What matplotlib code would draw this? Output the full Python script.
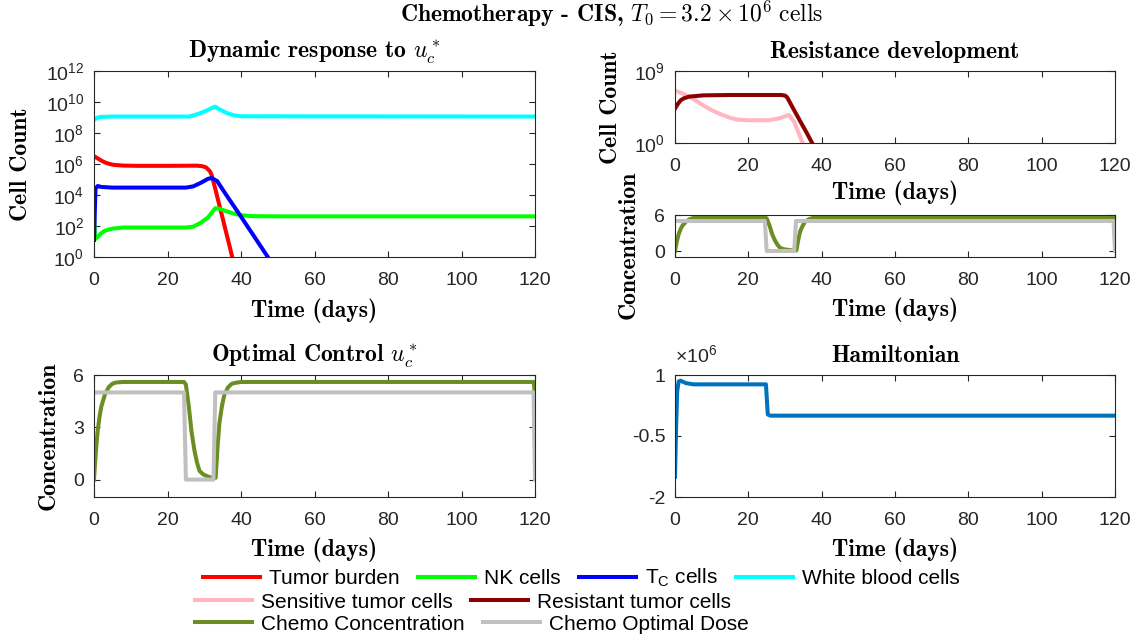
import math
import matplotlib
matplotlib.use("Agg")
import matplotlib.pyplot as plt
from matplotlib.lines import Line2D
from matplotlib.ticker import FixedLocator, FuncFormatter, NullLocator

plt.rcParams.update({
    "font.family": "Liberation Sans",
    "mathtext.fontset": "custom",
    "mathtext.rm": "Liberation Sans",
    "mathtext.it": "Liberation Sans:italic",
    "mathtext.bf": "Liberation Sans:bold",
    "axes.unicode_minus": False,
    "axes.linewidth": 0.8,
    "axes.edgecolor": "#262626",
    "xtick.color": "#262626",
    "ytick.color": "#262626",
    "xtick.labelcolor": "#262626",
    "ytick.labelcolor": "#262626",
})

# ---- simulated trajectories (days, cells) ----
t_tumor = [0, 1, 2, 3, 4, 5, 6, 8, 12, 20, 28, 29.5, 30.5, 31.5, 32, 33, 34, 35, 36, 37, 37.6, 38.2]
tumor = [3.2e6, 2.3e6, 1.66e6, 1.26e6, 1.05e6, 9.1e5, 8.5e5, 7.9e5, 7.6e5, 7.6e5, 7.8e5, 7.2e5,
         6.0e5, 3.5e5, 2.0e5, 2.5e4, 2.8e3, 3.2e2, 35, 4.0, 1.0, 0.25]

t_nk = [0, 0.3, 1, 2, 3, 5, 8, 25, 27, 29, 31, 32, 33, 34, 36, 38, 40, 43, 50, 120]
nk = [800, 14, 20, 35, 50, 68, 80, 80, 90, 160, 350, 700, 1400, 1300, 900, 630, 500, 430, 420, 420]

t_tc = [0, 0.4, 1, 2, 5, 25, 27, 29, 31, 32, 33.5, 36, 40, 44, 47.3, 48]
tc = [12.6, 2.5e4, 3.8e4, 3.3e4, 3.0e4, 3.0e4, 3.6e4, 6e4, 1.1e5, 1.25e5, 7.9e4, 1e4, 400, 15, 1, 0.55]

t_wbc = [0, 1, 2, 5, 26, 28, 30, 32, 33, 34, 36, 38, 40, 120]
wbc = [7e8, 1.0e9, 1.1e9, 1.15e9, 1.15e9, 1.6e9, 2.4e9, 4e9, 5e9, 3.5e9, 2e9, 1.4e9, 1.2e9, 1.15e9]

t_sens = [0, 2, 5, 7.7, 10, 12.4, 15, 17, 20, 25.5, 28, 29.2, 31.1, 32.5, 33.5, 34.8, 35.3]
sens = [3.5e6, 1.6e6, 3.2e5, 5e4, 1.26e4, 4e3, 1.4e3, 850, 700, 700, 1.1e3, 1.6e3, 3.2e3, 450, 32, 1, 0.3]

t_res = [0, 0.8, 1.6, 2.5, 3.9, 7.7, 15, 29, 30, 30.6, 31.3, 32, 34, 36, 37.4, 38]
res = [2e4, 8e4, 2.3e5, 4e5, 6.3e5, 9e5, 1e6, 1e6, 8.5e5, 5e5, 1.26e5, 3.2e4, 700, 16, 1, 0.3]

t_chemo = [0, 0.5, 1, 1.5, 2, 3, 4, 5, 6, 8, 24.5, 25, 25.8, 26.5, 27.3, 28, 28.7, 29.7, 30.7, 32,
           33.1, 33.6, 34.1, 34.8, 35.5, 36.5, 37.5, 38.5, 40, 119.7, 120]
chemo = [0, 1.6, 2.8, 3.6, 4.2, 4.9, 5.3, 5.5, 5.57, 5.6, 5.6, 5.45, 4.2, 2.8, 1.7, 1.0, 0.5, 0.3, 0.2, 0.1,
         0.1, 1.8, 3.2, 4.2, 4.9, 5.3, 5.5, 5.55, 5.6, 5.6, 4.6]

t_dose = [0, 24.5, 25.0, 32.5, 33.0, 119.6, 120]
dose = [5, 5, 0, 0, 5, 5, 0]

t_ham = [0, 0.3, 0.6, 1.0, 1.5, 3, 5, 24.8, 25.3, 26, 120]
ham = [-1.5e6, -0.3e6, 0.6e6, 0.84e6, 0.86e6, 0.8e6, 0.77e6, 0.77e6, 0.03e6, 0.0, 0.0]

x_ticks = [0, 20, 40, 60, 80, 100, 120]
cell_ticks = [1e0, 1e2, 1e4, 1e6, 1e8, 1e10, 1e12]
res_ticks = [1e0, 1e9]
conc_ticks_full = [0, 3, 6]
conc_ticks_small = [0, 6]
ham_ticks = [-2e6, -0.5e6, 1e6]

C_TUMOR = "#ff0000"
C_NK = "#00ff00"
C_TC = "#0000ff"
C_WBC = "#00ffff"
C_SENS = "#ffb6c1"
C_RES = "#8b0000"
C_CHEMO = "#6b8e23"
C_DOSE = "#c0c0c0"
C_HAM = "#0072bd"

LW = 2.9
TITLE_FS = 17
LABEL_FS = 17
W, H = 1138, 637
fig = plt.figure(figsize=(W / 100, H / 100), dpi=100)


def px_axes(left, top, right, bottom):
    return fig.add_axes([left / W, 1 - bottom / H, (right - left) / W, (bottom - top) / H])


serif_b = dict(fontfamily="cmb10", math_fontfamily="cm")


def style(ax, xlabel_y, ylabel=None, ylabel_x=None, ylabel_y=0.5):
    ax.set_xlim(0, 120)
    ax.xaxis.set_major_locator(FixedLocator(x_ticks))
    ax.xaxis.set_minor_locator(NullLocator())
    ax.tick_params(which="both", direction="in", top=True, right=True, length=4.5, width=0.8,
                   labelsize=14)
    ax.tick_params(axis="x", pad=11)
    ax.tick_params(axis="y", pad=7)
    ax.set_xlabel("Time (days)", fontsize=LABEL_FS, **serif_b)
    ax.xaxis.label.set_va("center")
    ax.xaxis.set_label_coords(0.5, xlabel_y)
    if ylabel:
        ax.set_ylabel(ylabel, fontsize=LABEL_FS, **serif_b)
        ax.yaxis.label.set_va("center")
        ax.yaxis.set_label_coords(ylabel_x, ylabel_y)


def log_fmt(v, pos):
    return r"$10^{%d}$" % round(math.log10(v))


# Dynamic response
ax1 = px_axes(94, 71, 535, 257)
ax1.plot(t_tumor, tumor, color=C_TUMOR, lw=LW)
ax1.plot(t_nk, nk, color=C_NK, lw=LW)
ax1.plot(t_tc, tc, color=C_TC, lw=LW)
ax1.plot(t_wbc, wbc, color=C_WBC, lw=LW)
ax1.set_yscale("log")
ax1.set_ylim(1, 1e12)
ax1.yaxis.set_major_locator(FixedLocator(cell_ticks))
ax1.yaxis.set_minor_locator(NullLocator())
ax1.yaxis.set_major_formatter(FuncFormatter(log_fmt))
style(ax1, -0.29, "Cell Count", -0.165)
ax1.text(0.5, 1.07, r"Dynamic response to $u_c^*$", transform=ax1.transAxes, ha="center",
         va="baseline", fontsize=TITLE_FS, **serif_b)

# Resistance development
ax2 = px_axes(675, 71, 1115, 143)
ax2.plot(t_sens, sens, color=C_SENS, lw=LW)
ax2.plot(t_res, res, color=C_RES, lw=LW)
ax2.set_yscale("log")
ax2.set_ylim(1, 1e9)
ax2.yaxis.set_major_locator(FixedLocator(res_ticks))
ax2.yaxis.set_minor_locator(NullLocator())
ax2.yaxis.set_major_formatter(FuncFormatter(log_fmt))
style(ax2, -0.69, "Cell Count", -0.145)
ax2.text(0.5, 1.18, "Resistance development", transform=ax2.transAxes, ha="center",
         va="baseline", fontsize=TITLE_FS, **serif_b)

ax3 = px_axes(675, 215, 1115, 257)
ax3.plot(t_chemo, chemo, color=C_CHEMO, lw=LW)
ax3.plot(t_dose, dose, color=C_DOSE, lw=LW)
ax3.set_ylim(-1, 6)
ax3.yaxis.set_major_locator(FixedLocator(conc_ticks_small))
style(ax3, -1.26, "Concentration", -0.105, 0.3)

# Optimal control
ax4 = px_axes(94, 375, 535, 497)
ax4.plot(t_chemo, chemo, color=C_CHEMO, lw=LW)
ax4.plot(t_dose, dose, color=C_DOSE, lw=LW)
ax4.set_ylim(-1, 6)
ax4.yaxis.set_major_locator(FixedLocator(conc_ticks_full))
style(ax4, -0.434, "Concentration", -0.104)
ax4.text(0.5, 1.11, r"Optimal Control $u_c^*$", transform=ax4.transAxes, ha="center",
         va="baseline", fontsize=TITLE_FS, **serif_b)

# Hamiltonian
ax5 = px_axes(675, 375, 1115, 497)
ax5.plot(t_ham, ham, color=C_HAM, lw=LW)
ax5.set_ylim(-2e6, 1e6)
ax5.yaxis.set_major_locator(FixedLocator(ham_ticks))
ax5.yaxis.set_major_formatter(FuncFormatter(lambda v, p: f"{v / 1e6:g}"))
style(ax5, -0.434)
ax5.text(0.5, 1.11, "Hamiltonian", transform=ax5.transAxes, ha="center",
         va="baseline", fontsize=TITLE_FS, **serif_b)
ax5.text(0.0, 1.07, r"$\times10^{6}$", transform=ax5.transAxes, ha="left", va="bottom",
         fontsize=14, color="#262626")

# overall title
fig.text(612 / W, 1 - 22 / H, r"Chemotherapy - CIS, $T_0 = 3.2\times 10^6\ \mathrm{cells}$",
         ha="center", va="baseline", fontsize=17, **serif_b)

# legend rows
def row(entries, x, y):
    handles = [Line2D([], [], color=c, lw=LW) for c, _ in entries]
    labels = [l for _, l in entries]
    fig.legend(handles, labels, loc="center left", bbox_to_anchor=(x / W, 1 - y / H),
               ncol=len(entries), frameon=False, fontsize=15, handlelength=2.75,
               handletextpad=0.43, columnspacing=0.87, borderpad=0, borderaxespad=0)

row([(C_TUMOR, "Tumor burden"), (C_NK, "NK cells"), (C_TC, r"T$_\mathrm{C}$ cells"),
     (C_WBC, "White blood cells")], 203, 578)
row([(C_SENS, "Sensitive tumor cells"), (C_RES, "Resistant tumor cells")], 195, 602)
row([(C_CHEMO, "Chemo Concentration"), (C_DOSE, "Chemo Optimal Dose")], 195, 624)

fig.savefig("out.png", dpi=100)
